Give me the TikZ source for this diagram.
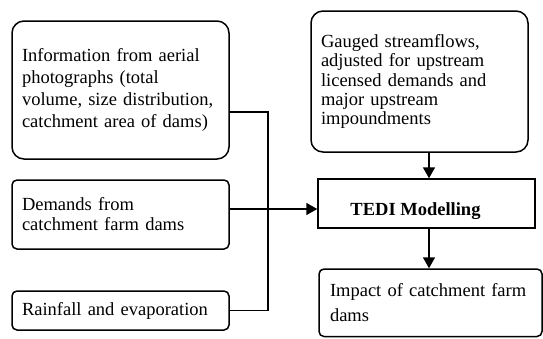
\documentclass[tikz,border=0pt]{standalone}
\usepackage{fontspec}
\setmainfont{Liberation Serif}
\usetikzlibrary{arrows.meta}
\begin{document}
\begin{tikzpicture}[x=1pt,y=-1pt,
  box/.style={draw, line width=1.5pt, align=left, inner ysep=0pt, anchor=center},
  big/.style={box, rounded corners=12pt},
  small/.style={box, rounded corners=5pt},
  conn/.style={line width=1.6pt},
  arr/.style={conn, -{Triangle[length=11pt,width=12pt]}}]
\useasboundingbox (0,0) rectangle (543,338);
% left boxes
\node[big, minimum width=217pt, minimum height=138pt, text width=197pt, inner xsep=10pt,
  font=\fontsize{18.5}{21.7}\selectfont] (info) at (120.5,90)
  {Information from aerial\\photographs (total\\volume, size distribution,\\catchment area of dams)};
\node[small, minimum width=217pt, minimum height=69pt, text width=197pt, inner xsep=10pt,
  font=\fontsize{18.5}{20}\selectfont] (dem) at (120.5,214.5)
  {Demands from\\catchment farm dams};
\node[small, minimum width=217pt, minimum height=39pt, text width=197pt, inner xsep=10pt,
  font=\fontsize{18.5}{20}\selectfont] (rain) at (120.5,310.5)
  {Rainfall and evaporation};
% right boxes
\node[big, minimum width=217pt, minimum height=141pt, text width=197pt, inner xsep=10pt,
  font=\fontsize{18.5}{19.3}\selectfont] (gauge) at (419.5,81.5)
  {Gauged streamflows,\\adjusted for upstream\\licensed demands and\\major upstream\\impoundments};
\node[box, minimum width=217pt, minimum height=49pt] (tedi) at (426.5,203.5) {};
\node[font=\fontsize{18.5}{20}\selectfont\bfseries, inner sep=0pt] (tedilabel) at (415.5,211) {TEDI Modelling};
\node[small, minimum width=223pt, minimum height=67.5pt, text width=207pt, inner xsep=8pt,
  font=\fontsize{18.5}{25}\selectfont] (impact) at (430.5,302.75)
  {\hspace*{3pt}Impact of catchment farm\\\hspace*{3pt}dams};
% connectors
\coordinate (jx) at (268,0);
\coordinate (ax) at (429,0);
\coordinate (iy) at (0,112);
\coordinate (dy) at (0,209);
\draw[conn] (info.east |- iy) -| (jx |- rain.east) -- (rain.east);
\draw[arr] (dem.east |- dy) -- (tedi.west |- dy);
\draw[arr] (gauge.south -| ax) -- (tedi.north -| ax);
\draw[arr] (tedi.south -| ax) -- (impact.north -| ax);
\end{tikzpicture}
\end{document}
